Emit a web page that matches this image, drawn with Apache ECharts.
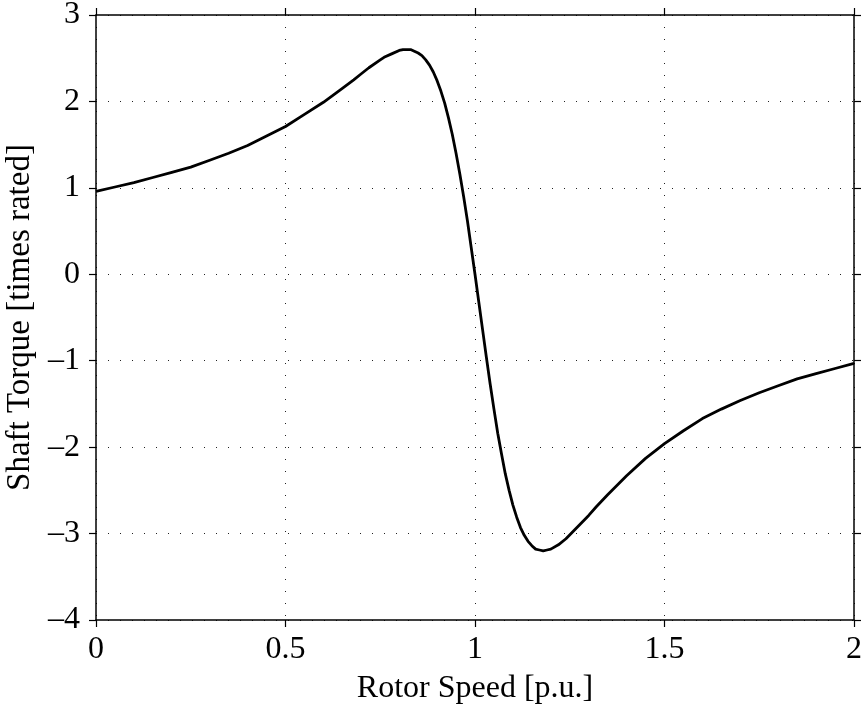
<!DOCTYPE html>
<html>
<head>
<meta charset="utf-8">
<script src="https://cdn.jsdelivr.net/npm/echarts@6/dist/echarts.min.js"></script>
<style>
html,body{margin:0;padding:0;background:#fff;}
#chart{width:863px;height:708px;}
</style>
</head>
<body>
<div id="chart"></div>
<script>
const xTicks = [0, 0.5, 1, 1.5, 2];
const yTicks = [-4, -3, -2, -1, 0, 1, 2, 3];
const rotorSpeed = [0, 0.05, 0.1, 0.15, 0.2, 0.25, 0.3, 0.35, 0.4, 0.45, 0.5, 0.55, 0.6, 0.65, 0.68, 0.7, 0.72, 0.75, 0.76, 0.78, 0.8, 0.81, 0.82, 0.83, 0.84, 0.85, 0.86, 0.87, 0.88, 0.89, 0.9, 0.91, 0.92, 0.93, 0.94, 0.95, 0.96, 0.97, 0.98, 0.99, 1.0, 1.01, 1.02, 1.03, 1.04, 1.05, 1.06, 1.07, 1.08, 1.09, 1.1, 1.11, 1.12, 1.13, 1.14, 1.15, 1.16, 1.17, 1.18, 1.19, 1.2, 1.22, 1.24, 1.26, 1.28, 1.3, 1.32, 1.35, 1.4, 1.45, 1.5, 1.55, 1.6, 1.65, 1.7, 1.75, 1.8, 1.85, 1.9, 1.95, 2.0];
const shaftTorque = [0.96, 1.01, 1.06, 1.12, 1.18, 1.24, 1.32, 1.40, 1.49, 1.60, 1.71, 1.85, 1.99, 2.15, 2.25, 2.32, 2.39, 2.48, 2.51, 2.55, 2.59, 2.60, 2.60, 2.60, 2.58, 2.56, 2.53, 2.48, 2.42, 2.34, 2.24, 2.12, 1.98, 1.81, 1.62, 1.40, 1.16, 0.90, 0.62, 0.31, 0.0, -0.32, -0.64, -0.96, -1.27, -1.56, -1.84, -2.08, -2.31, -2.50, -2.67, -2.81, -2.93, -3.02, -3.09, -3.14, -3.18, -3.19, -3.20, -3.19, -3.18, -3.13, -3.06, -2.97, -2.88, -2.79, -2.69, -2.55, -2.33, -2.13, -1.96, -1.81, -1.67, -1.56, -1.46, -1.37, -1.29, -1.21, -1.15, -1.09, -1.03];

const FONT = '"Liberation Serif", "DejaVu Serif", serif';
const data = rotorSpeed.map((x, i) => [x, shaftTorque[i]]);

const tickStyle = {show: true, inside: false, length: 7, lineStyle: {color: '#000', width: 1.2}};
const lineStyleAxis = {show: true, onZero: false, lineStyle: {color: '#000', width: 1.5}};
const dotted = {show: true, lineStyle: {color: '#222', width: 1, type: [1, 11]}};

const chart = echarts.init(document.getElementById('chart'), null, {renderer: 'canvas'});
chart.setOption({
  animation: false,
  backgroundColor: '#fff',
  grid: {left: 96, right: 9, top: 15, bottom: 88, show: false, containLabel: false, outerBoundsMode: 'none'},
  xAxis: [{
    type: 'value', min: xTicks[0], max: xTicks[xTicks.length - 1], interval: 0.5,
    position: 'bottom',
    name: 'Rotor Speed [p.u.]', nameLocation: 'middle', nameGap: 53,
    nameTextStyle: {fontFamily: FONT, fontSize: 32, color: '#000'},
    axisLine: lineStyleAxis, axisTick: tickStyle,
    axisLabel: {fontFamily: FONT, fontSize: 32, color: '#000', margin: 14},
    splitLine: dotted
  }, {
    type: 'value', min: xTicks[0], max: xTicks[xTicks.length - 1], interval: 0.5,
    position: 'top',
    axisLine: lineStyleAxis, axisTick: tickStyle,
    axisLabel: {show: false}, splitLine: {show: false}
  }],
  yAxis: [{
    type: 'value', min: yTicks[0], max: yTicks[yTicks.length - 1], interval: 1,
    position: 'left',
    name: 'Shaft Torque [times rated]', nameLocation: 'middle', nameGap: 53,
    nameTextStyle: {fontFamily: FONT, fontSize: 33, color: '#000'},
    axisLine: lineStyleAxis, axisTick: tickStyle,
    axisLabel: {fontFamily: FONT, fontSize: 32, color: '#000', margin: 16,
      formatter: v => (v < 0 ? '\u2013' + Math.abs(v) : String(v))},
    splitLine: dotted
  }, {
    type: 'value', min: yTicks[0], max: yTicks[yTicks.length - 1], interval: 1,
    position: 'right',
    axisLine: lineStyleAxis, axisTick: tickStyle,
    axisLabel: {show: false}, splitLine: {show: false}
  }],
  series: [{
    type: 'line', data: data, xAxisIndex: 0, yAxisIndex: 0,
    showSymbol: false, smooth: false,
    lineStyle: {color: '#000', width: 2.8, join: 'round'}, z: 5
  }]
});
</script>
</body>
</html>
